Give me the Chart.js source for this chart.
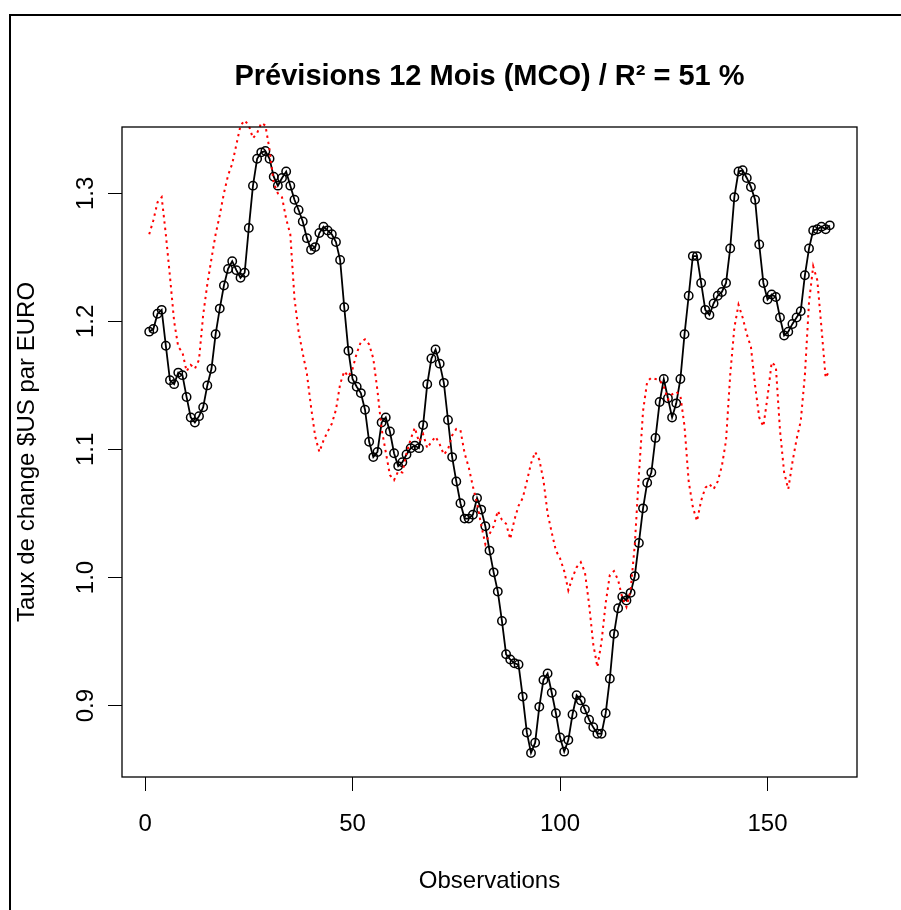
<!DOCTYPE html>
<html>
<head>
<meta charset="utf-8">
<script src="https://cdn.jsdelivr.net/npm/chart.js@4/dist/chart.umd.min.js"></script>
<style>
  html, body { margin: 0; padding: 0; background: #fff; }
  canvas { display: block; }
</style>
</head>
<body>
<canvas id="chart" width="901" height="910"></canvas>
<script>
// Observed rate $US per EURO (black), one value per observation
const observed = [
  1.192, 1.194, 1.206, 1.209, 1.181, 1.154, 1.151, 1.160, 1.158, 1.141,
  1.125, 1.121, 1.126, 1.133, 1.150, 1.163, 1.190, 1.210, 1.228, 1.241,
  1.247, 1.240, 1.234, 1.238, 1.273, 1.306, 1.327, 1.332, 1.333, 1.327,
  1.313, 1.306, 1.312, 1.317, 1.306, 1.295, 1.287, 1.278, 1.265, 1.256,
  1.258, 1.269, 1.274, 1.271, 1.268, 1.262, 1.248, 1.211, 1.177, 1.155,
  1.149, 1.144, 1.131, 1.106, 1.094, 1.098, 1.121, 1.125, 1.114, 1.097,
  1.087, 1.090, 1.096, 1.101, 1.103, 1.101, 1.119, 1.151, 1.171, 1.178,
  1.167, 1.152, 1.123, 1.094, 1.075, 1.058, 1.046, 1.046, 1.049, 1.062,
  1.053, 1.040, 1.021, 1.004, 0.989, 0.966, 0.940, 0.936, 0.933, 0.932,
  0.907, 0.879, 0.863, 0.871, 0.899, 0.920, 0.925, 0.910, 0.894, 0.875,
  0.864, 0.873, 0.893, 0.908, 0.904, 0.897, 0.889, 0.883, 0.878, 0.878,
  0.894, 0.921, 0.956, 0.976, 0.985, 0.982, 0.988, 1.001, 1.027, 1.054,
  1.074, 1.082, 1.109, 1.137, 1.155, 1.140, 1.125, 1.136, 1.155, 1.190,
  1.220, 1.251, 1.251, 1.230, 1.209, 1.205, 1.214, 1.220, 1.223, 1.230,
  1.257, 1.297, 1.317, 1.318, 1.312, 1.305, 1.295, 1.260, 1.230, 1.217,
  1.221, 1.219, 1.203, 1.189, 1.192, 1.198, 1.203, 1.208, 1.236, 1.257,
  1.271, 1.272, 1.274, 1.272, 1.275
];

// 12 month OLS forecast (red dotted line)
const forecast = [
  1.268, 1.279, 1.293, 1.297, 1.268, 1.235, 1.200, 1.180, 1.176, 1.161,
  1.166, 1.163, 1.170, 1.205, 1.229, 1.249, 1.268, 1.283, 1.300, 1.314,
  1.323, 1.338, 1.353, 1.357, 1.353, 1.343, 1.347, 1.355, 1.353, 1.334,
  1.308, 1.300, 1.297, 1.280, 1.268, 1.218, 1.192, 1.175, 1.159, 1.133,
  1.110, 1.098, 1.107, 1.114, 1.120, 1.131, 1.151, 1.161, 1.157, 1.163,
  1.175, 1.184, 1.186, 1.182, 1.171, 1.146, 1.116, 1.098, 1.080, 1.076,
  1.083, 1.082, 1.097, 1.108, 1.117, 1.106, 1.112, 1.101, 1.106, 1.110,
  1.104, 1.096, 1.100, 1.111, 1.116, 1.115, 1.097, 1.086, 1.071, 1.058,
  1.041, 1.026, 1.034, 1.040, 1.052, 1.045, 1.042, 1.030, 1.045, 1.056,
  1.062, 1.075, 1.089, 1.098, 1.092, 1.076, 1.050, 1.035, 1.021, 1.015,
  1.005, 0.990, 1.000, 1.008, 1.012, 1.004, 0.979, 0.948, 0.930, 0.950,
  0.980, 1.002, 1.005, 0.998, 0.984, 0.977, 0.990, 1.025, 1.080, 1.130,
  1.153, 1.156, 1.155, 1.154, 1.149, 1.139, 1.143, 1.145, 1.142, 1.118,
  1.075, 1.055, 1.044, 1.060, 1.070, 1.073, 1.069, 1.075, 1.087, 1.107,
  1.158, 1.195, 1.213, 1.203, 1.190, 1.180, 1.150, 1.125, 1.118, 1.141,
  1.168, 1.165, 1.115, 1.082, 1.069, 1.090, 1.108, 1.122, 1.158, 1.215,
  1.243, 1.232, 1.195, 1.156, 1.162
];

const xTicks = [0, 50, 100, 150];
const yTicks = [0.9, 1.0, 1.1, 1.2, 1.3];
const yTickLabels = ['0.9', '1.0', '1.1', '1.2', '1.3'];
const chartTitle = 'Prévisions 12 Mois (MCO) / R² = 51 %';
const xTitle = 'Observations';
const yTitle = 'Taux de change $US par EURO';

const FONT = '"Liberation Sans", Arial, sans-serif';

// axis limits like R: data range plus 4% each side
function rLimits(values) {
    const lo = Math.min(...values);
    const hi = Math.max(...values);
    const pad = (hi - lo) * 0.04;
    return [lo - pad, hi + pad];
}

const obsIndex = observed.map((v, i) => i + 1);
const [xMin, xMax] = rLimits(obsIndex);
const [yMin, yMax] = rLimits(observed);

const observedPoints = observed.map((v, i) => ({ x: obsIndex[i], y: v }));
const forecastPoints = forecast.map((v, i) => ({ x: obsIndex[i], y: v }));

// frame, plot box, titles and rotated y labels (R look)
const rStyle = {
    id: 'rStyle',
    afterDraw(chart) {
        const { ctx, chartArea: a, scales } = chart;
        ctx.save();
        ctx.strokeStyle = '#000';
        ctx.lineWidth = 2;
        ctx.strokeRect(10, 15, 1000, 1000);
        ctx.lineWidth = 1.3;
        ctx.strokeRect(a.left, a.top, a.width, a.height);

        ctx.fillStyle = '#000';
        ctx.textAlign = 'center';
        ctx.textBaseline = 'alphabetic';
        const cx = (a.left + a.right) / 2;
        ctx.font = 'bold 29px ' + FONT;
        ctx.fillText(chartTitle, cx, 85);
        ctx.font = '24px ' + FONT;
        ctx.fillText(xTitle, cx, 888);

        yTicks.forEach((v, i) => {
            const py = scales.y.getPixelForValue(v);
            ctx.save();
            ctx.translate(86, py);
            ctx.rotate(-Math.PI / 2);
            ctx.textBaseline = 'middle';
            ctx.fillText(yTickLabels[i], 0, 0);
            ctx.restore();
        });

        ctx.save();
        ctx.translate(33.5, (a.top + a.bottom) / 2);
        ctx.rotate(-Math.PI / 2);
        ctx.fillText(yTitle, 0, 0);
        ctx.restore();
        ctx.restore();
    }
};

new Chart(document.getElementById('chart'), {
    type: 'line',
    data: {
        datasets: [
            {
                label: 'Prévision',
                data: forecastPoints,
                borderColor: '#ff0000',
                borderWidth: 2,
                borderDash: [2.4, 4],
                pointRadius: 0,
                tension: 0,
                clip: false,
                order: 0
            },
            {
                label: 'Observé',
                data: observedPoints,
                borderColor: '#000',
                borderWidth: 1.8,
                pointRadius: 4.2,
                pointBorderWidth: 1.5,
                pointBorderColor: '#000',
                pointBackgroundColor: 'rgba(0,0,0,0)',
                tension: 0,
                order: 1
            }
        ]
    },
    options: {
        responsive: false,
        animation: false,
        devicePixelRatio: 1,
        layout: { padding: { left: 82, right: 44, top: 127, bottom: 53 } },
        plugins: { legend: { display: false }, tooltip: { enabled: false } },
        scales: {
            x: {
                type: 'linear',
                min: xMin,
                max: xMax,
                afterBuildTicks: s => { s.ticks = xTicks.map(v => ({ value: v })); },
                afterFit: s => { s.height = 80; },
                border: { display: false },
                grid: { drawOnChartArea: false, drawTicks: true, tickLength: 14, color: '#000', lineWidth: 1 },
                ticks: { color: '#000', font: { family: FONT, size: 24 }, padding: 19, maxRotation: 0, callback: v => String(v) }
            },
            y: {
                type: 'linear',
                min: yMin,
                max: yMax,
                afterBuildTicks: s => { s.ticks = yTicks.map(v => ({ value: v })); },
                afterFit: s => { s.width = 40; },
                border: { display: false },
                grid: { drawOnChartArea: false, drawTicks: true, tickLength: 14, color: '#000', lineWidth: 1 },
                ticks: { display: false }
            }
        }
    },
    plugins: [rStyle]
});
</script>
</body>
</html>
